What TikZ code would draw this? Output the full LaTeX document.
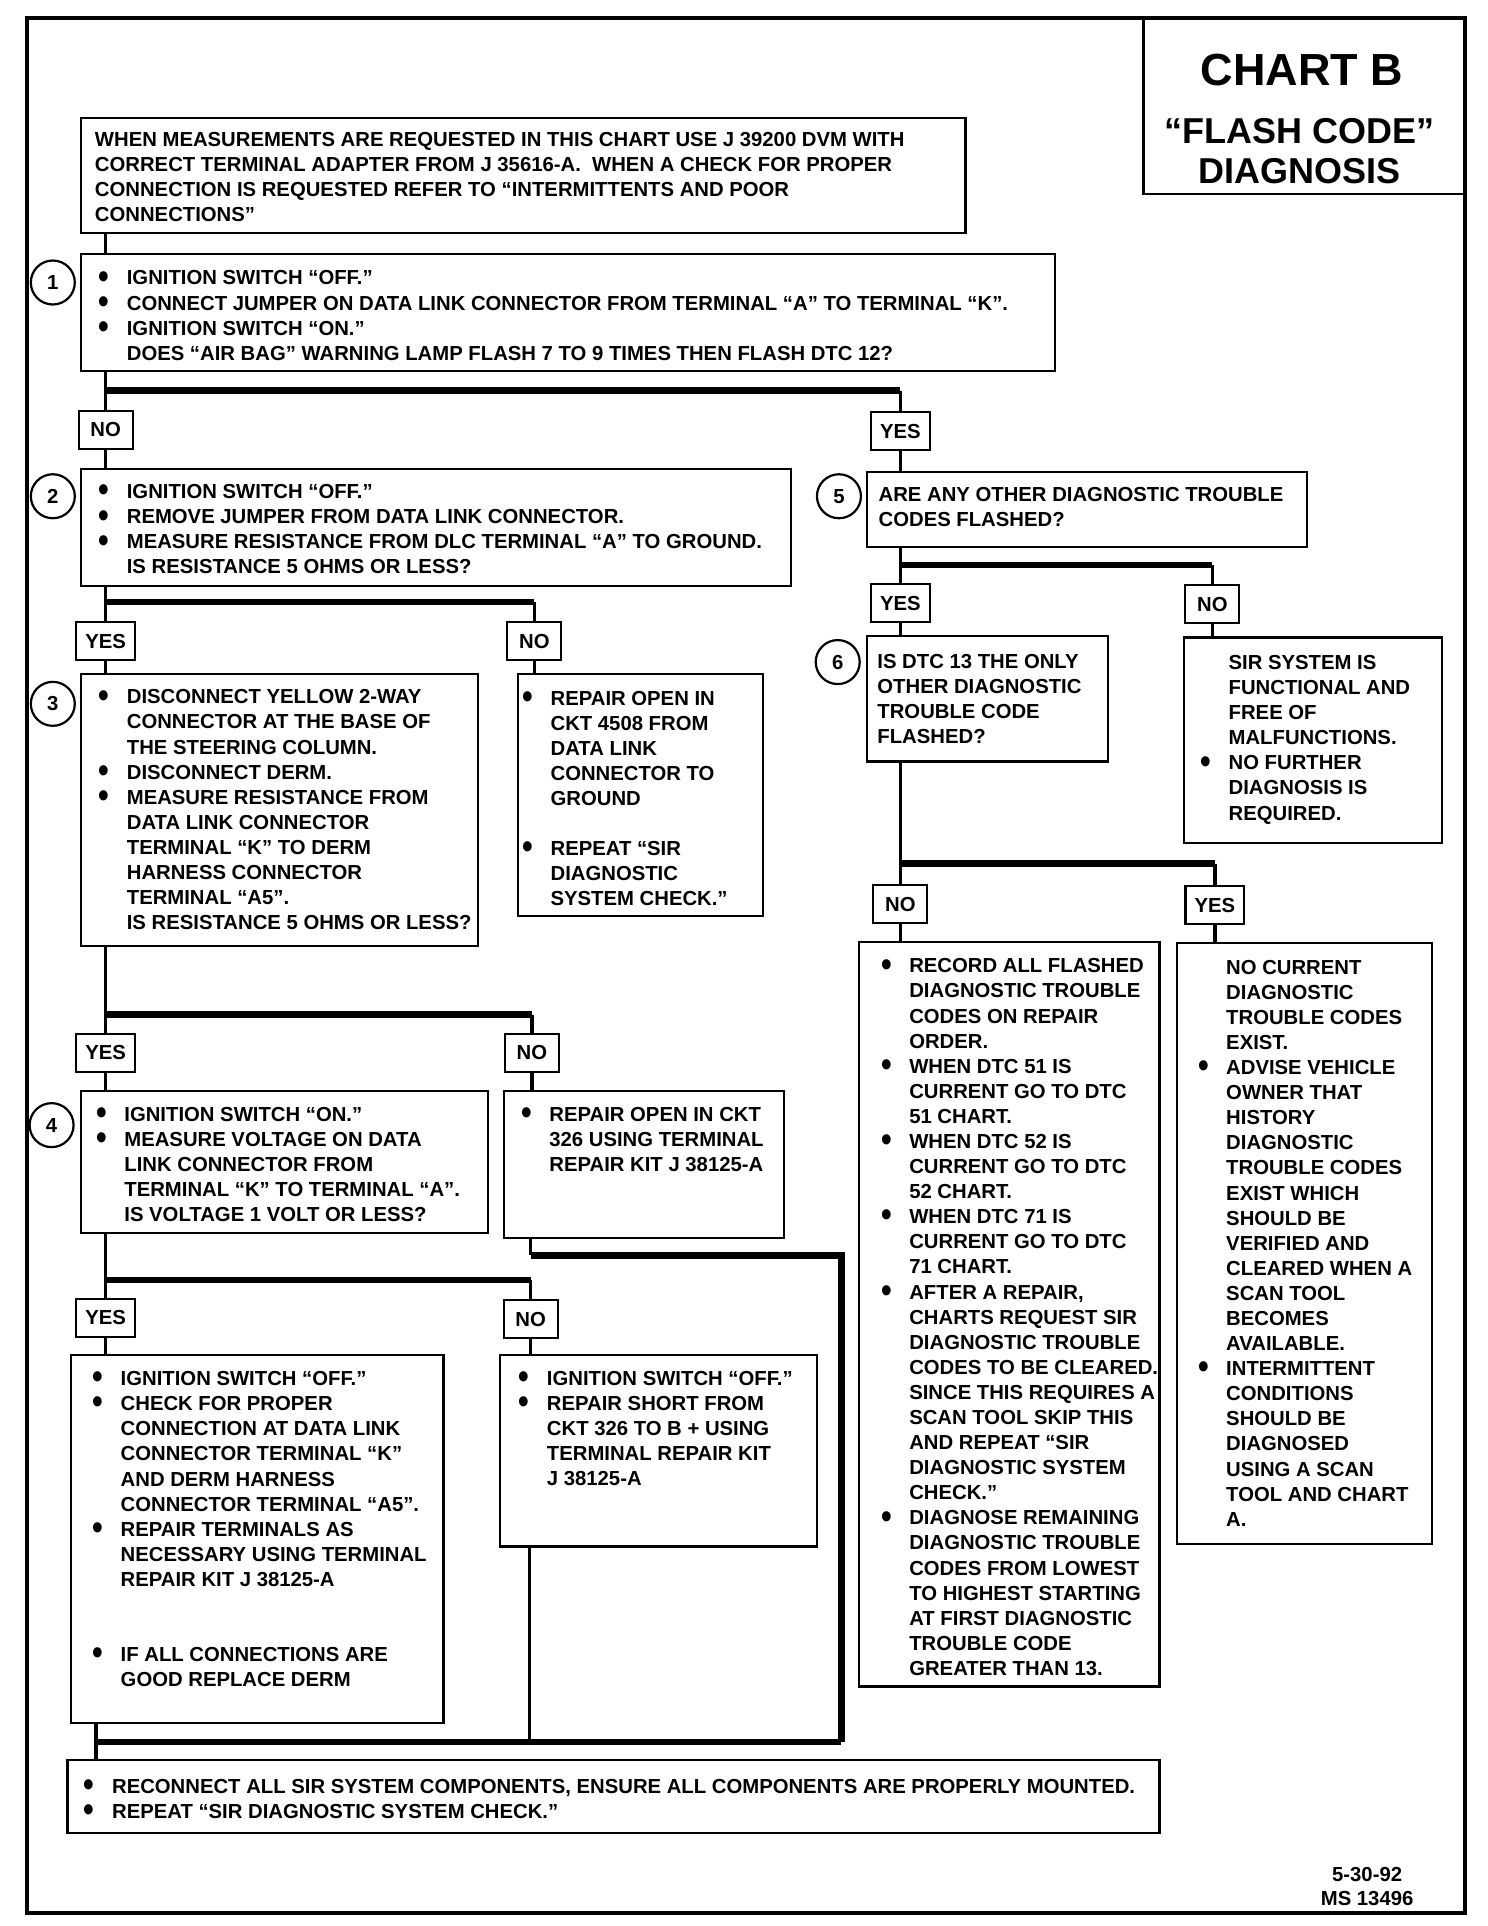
\documentclass[tikz,border=0pt]{standalone}
\usepackage{fontspec}
\usepackage{graphicx}
\setmainfont{Liberation Sans}
\usetikzlibrary{fit}
\newlength\bulw \setlength\bulw{14.1pt}
\newcommand\bult{\makebox[\bulw][l]{\smash{\raisebox{-1.6pt}{\scalebox{1.5}[1.75]{\textbullet}}}}}
\newcommand\indt{\hspace*{\bulw}}
\newcommand\fs{\fontsize{10.15pt}{12.55pt}\selectfont\bfseries}
\tikzset{
  frame/.style={draw, line width=1.1pt, inner sep=0pt},
  txt/.style={anchor=base west, align=left, inner sep=0pt, font=\fs},
  lab/.style={draw, line width=1.1pt, minimum width=27pt, minimum height=19pt, inner xsep=4.5pt, font=\fs, fill=white},
  conn/.style={line width=1.8pt},
  bar/.style={line width=3.2pt},
  num/.style={draw, circle, line width=1.1pt, minimum size=22pt, inner sep=0pt, font=\fs},
}
\begin{document}
\begin{tikzpicture}[x=0.61435pt, y=-0.61435pt]
\useasboundingbox (0,0) rectangle (1211,1568);
% outer frame and title
\node[draw, line width=2pt, inner sep=0pt, fit={(22,15)(1193,1557)}] (outer) {};
\node[frame, fit={(931,15)(1193,158)}] (title) {};
\node[anchor=base, inner sep=0pt, font=\fontsize{22.5pt}{24pt}\selectfont\bfseries] (tA) at (1060,70) {CHART B};
\node[anchor=base, inner sep=0pt, font=\fontsize{18pt}{20pt}\selectfont\bfseries] (tB) at (1058,117) {“FLASH CODE”};
\node[anchor=base, inner sep=0pt, font=\fontsize{18pt}{20pt}\selectfont\bfseries] (tC) at (1058,149) {DIAGNOSIS};

% frames
\node[frame, fit={(66,96)(786,190)}] (b0) {};
\node[frame, fit={(66,207)(859,302)}] (b1) {};
\node[frame, fit={(66,382)(644,477)}] (b2) {};
\node[frame, fit={(66,549)(389,770)}] (b3) {};
\node[frame, fit={(422,549)(621,746)}] (b3n) {};
\node[frame, fit={(66,888)(397,1004)}] (b4) {};
\node[frame, fit={(410,888)(638,1008)}] (b4n) {};
\node[frame, fit={(58,1103)(361,1403)}] (b5y) {};
\node[frame, fit={(407,1103)(665,1259)}] (b5n) {};
\node[frame, fit={(55,1433)(944,1492)}] (bf) {};
\node[frame, fit={(706,384)(1064,445)}] (b5) {};
\node[frame, fit={(706,518)(902,620)}] (b6) {};
\node[frame, fit={(964,519)(1174,686)}] (b6n) {};
\node[frame, fit={(699,767)(944,1373)}] (b7) {};
\node[frame, fit={(958,768)(1166,1257)}] (b7y) {};

% circled numbers
\node[num] (c1) at (43,230) {1};
\node[num] (c2) at (43,404) {2};
\node[num] (c3) at (43,573) {3};
\node[num] (c4) at (42,916) {4};
\node[num] (c5) at (683,404) {5};
\node[num] (c6) at (682,539) {6};

% junction coordinates
\coordinate (j1) at (86,318);  \coordinate (j1r) at (733,318);
\coordinate (j2) at (86,490);  \coordinate (j2r) at (435,490);
\coordinate (j3) at (86,826);  \coordinate (j3r) at (433,826);
\coordinate (j4) at (86,1042); \coordinate (j4r) at (432,1042);
\coordinate (j5) at (733,460); \coordinate (j5r) at (987,460);
\coordinate (j6) at (733,703); \coordinate (j6r) at (989,703);
\coordinate (r1) at (432,1022); \coordinate (r2) at (685,1022);
\coordinate (r3) at (685,1418); \coordinate (r0) at (78,1418);
\coordinate (r4) at (431,1418);

% labels
\node[lab] (l1n) at (86,350) {NO};
\node[lab] (l1y) at (733,351) {YES};
\node[lab] (l2y) at (86,522) {YES};
\node[lab] (l2n) at (435,522) {NO};
\node[lab] (l3y) at (86,857) {YES};
\node[lab] (l3n) at (433,857) {NO};
\node[lab] (l4y) at (86,1073) {YES};
\node[lab] (l4n) at (432,1074) {NO};
\node[lab] (l5y) at (733,491) {YES};
\node[lab] (l5n) at (987,492) {NO};
\node[lab] (l6n) at (733,736) {NO};
\node[lab] (l6y) at (989,737) {YES};

% connectors
\draw[conn] (b0.south -| j1) -- (b1.north -| j1);
\draw[conn] (b1.south -| j1) -- (l1n.north);
\draw[conn] (l1n.south) -- (b2.north -| l1n);
\draw[bar] (j1) -- (j1r);
\draw[conn] (j1r) -- (l1y.north);
\draw[conn] (l1y.south) -- (b5.north -| l1y);

\draw[conn] (b2.south -| j2) -- (l2y.north);
\draw[conn] (l2y.south) -- (b3.north -| l2y);
\draw[bar] (j2) -- (j2r);
\draw[conn] (j2r) -- (l2n.north);
\draw[conn] (l2n.south) -- (b3n.north -| l2n);

\draw[conn] (b3.south -| j3) -- (l3y.north);
\draw[conn] (l3y.south) -- (b4.north -| l3y);
\draw[bar] (j3) -- (j3r);
\draw[conn] (j3r) -- (l3n.north);
\draw[conn] (l3n.south) -- (b4n.north -| l3n);

\draw[conn] (b4.south -| j4) -- (l4y.north);
\draw[conn] (l4y.south) -- (b5y.north -| l4y);
\draw[bar] (j4) -- (j4r);
\draw[conn] (j4r) -- (l4n.north);
\draw[conn] (l4n.south) -- (b5n.north -| l4n);

\draw[conn] (b4n.south -| r1) -- (r1);
\draw[bar] (r1) -- (r2) -- (r3);
\draw[conn] (b5y.south -| r0) -- (r0);
\draw[conn] (b5n.south -| r4) -- (r4);
\draw[bar] (r0) -- (r3);
\draw[conn] (r0) -- (bf.north -| r0);

\draw[conn] (b5.south -| j5) -- (l5y.north);
\draw[conn] (l5y.south) -- (b6.north -| l5y);
\draw[bar] (j5) -- (j5r);
\draw[conn] (j5r) -- (l5n.north);
\draw[conn] (l5n.south) -- (b6n.north -| l5n);

\draw[conn] (b6.south -| j6) -- (l6n.north);
\draw[conn] (l6n.south) -- (b7.north -| l6n);
\draw[bar] (j6) -- (j6r);
\draw[conn] (j6r) -- (l6y.north);
\draw[conn] (l6y.south) -- (b7y.north -| l6y);

% texts (anchor = baseline of the last line)
\node[txt] (t0) at (77,180.3) {WHEN MEASUREMENTS ARE REQUESTED IN THIS CHART USE J 39200 DVM WITH\\
CORRECT TERMINAL ADAPTER FROM J 35616-A.\ \ WHEN A CHECK FOR PROPER\\
CONNECTION IS REQUESTED REFER TO “INTERMITTENTS AND POOR\\
CONNECTIONS”};

\node[txt] (t1) at (80,293.3) {\bult IGNITION SWITCH “OFF.”\\
\bult CONNECT JUMPER ON DATA LINK CONNECTOR FROM TERMINAL “A” TO TERMINAL “K”.\\
\bult IGNITION SWITCH “ON.”\\
\indt DOES “AIR BAG” WARNING LAMP FLASH 7 TO 9 TIMES THEN FLASH DTC 12?};

\node[txt] (t2) at (80,467.3) {\bult IGNITION SWITCH “OFF.”\\
\bult REMOVE JUMPER FROM DATA LINK CONNECTOR.\\
\bult MEASURE RESISTANCE FROM DLC TERMINAL “A” TO GROUND.\\
\indt IS RESISTANCE 5 OHMS OR LESS?};

\node[txt] (t3) at (80,756.9) {\bult DISCONNECT YELLOW 2-WAY\\
\indt CONNECTOR AT THE BASE OF\\
\indt THE STEERING COLUMN.\\
\bult DISCONNECT DERM.\\
\bult MEASURE RESISTANCE FROM\\
\indt DATA LINK CONNECTOR\\
\indt TERMINAL “K” TO DERM\\
\indt HARNESS CONNECTOR\\
\indt TERMINAL “A5”.\\
\indt IS RESISTANCE 5 OHMS OR LESS?};

\node[txt] (t3n) at (425,737.4) {\bult REPAIR OPEN IN\\
\indt CKT 4508 FROM\\
\indt DATA LINK\\
\indt CONNECTOR TO\\
\indt GROUND\\[12.55pt]
\bult REPEAT “SIR\\
\indt DIAGNOSTIC\\
\indt SYSTEM CHECK.”};

\node[txt] (t4) at (78,994.7) {\bult IGNITION SWITCH “ON.”\\
\bult MEASURE VOLTAGE ON DATA\\
\indt LINK CONNECTOR FROM\\
\indt TERMINAL “K” TO TERMINAL “A”.\\
\indt IS VOLTAGE 1 VOLT OR LESS?};

\node[txt] (t4n) at (424,953.9) {\bult REPAIR OPEN IN CKT\\
\indt 326 USING TERMINAL\\
\indt REPAIR KIT J 38125-A};

\node[txt] (t5y) at (75,1373.2) {\bult IGNITION SWITCH “OFF.”\\
\bult CHECK FOR PROPER\\
\indt CONNECTION AT DATA LINK\\
\indt CONNECTOR TERMINAL “K”\\
\indt AND DERM HARNESS\\
\indt CONNECTOR TERMINAL “A5”.\\
\bult REPAIR TERMINALS AS\\
\indt NECESSARY USING TERMINAL\\
\indt REPAIR KIT J 38125-A\\[25.1pt]
\bult IF ALL CONNECTIONS ARE\\
\indt GOOD REPLACE DERM};

\node[txt] (t5n) at (422,1209.7) {\bult IGNITION SWITCH “OFF.”\\
\bult REPAIR SHORT FROM\\
\indt CKT 326 TO B + USING\\
\indt TERMINAL REPAIR KIT\\
\indt J 38125-A};

\node[txt] (tf) at (68,1480.4) {\bult RECONNECT ALL SIR SYSTEM COMPONENTS, ENSURE ALL COMPONENTS ARE PROPERLY MOUNTED.\\
\bult REPEAT “SIR DIAGNOSTIC SYSTEM CHECK.”};

\node[txt] (t5) at (715,428.4) {ARE ANY OTHER DIAGNOSTIC TROUBLE\\
CODES FLASHED?};

\node[txt] (t6) at (714,605.3) {IS DTC 13 THE ONLY\\
OTHER DIAGNOSTIC\\
TROUBLE CODE\\
FLASHED?};

\node[txt] (t6n) at (977,667.6) {\indt SIR SYSTEM IS\\
\indt FUNCTIONAL AND\\
\indt FREE OF\\
\indt MALFUNCTIONS.\\
\bult NO FURTHER\\
\indt DIAGNOSIS IS\\
\indt REQUIRED.};

\node[txt] (t7) at (717,1364.0) {\bult RECORD ALL FLASHED\\
\indt DIAGNOSTIC TROUBLE\\
\indt CODES ON REPAIR\\
\indt ORDER.\\
\bult WHEN DTC 51 IS\\
\indt CURRENT GO TO DTC\\
\indt 51 CHART.\\
\bult WHEN DTC 52 IS\\
\indt CURRENT GO TO DTC\\
\indt 52 CHART.\\
\bult WHEN DTC 71 IS\\
\indt CURRENT GO TO DTC\\
\indt 71 CHART.\\
\bult AFTER A REPAIR,\\
\indt CHARTS REQUEST SIR\\
\indt DIAGNOSTIC TROUBLE\\
\indt CODES TO BE CLEARED.\\
\indt SINCE THIS REQUIRES A\\
\indt SCAN TOOL SKIP THIS\\
\indt AND REPEAT “SIR\\
\indt DIAGNOSTIC SYSTEM\\
\indt CHECK.”\\
\bult DIAGNOSE REMAINING\\
\indt DIAGNOSTIC TROUBLE\\
\indt CODES FROM LOWEST\\
\indt TO HIGHEST STARTING\\
\indt AT FIRST DIAGNOSTIC\\
\indt TROUBLE CODE\\
\indt GREATER THAN 13.};

\node[txt] (t7y) at (975,1242.5) {\indt NO CURRENT\\
\indt DIAGNOSTIC\\
\indt TROUBLE CODES\\
\indt EXIST.\\
\bult ADVISE VEHICLE\\
\indt OWNER THAT\\
\indt HISTORY\\
\indt DIAGNOSTIC\\
\indt TROUBLE CODES\\
\indt EXIST WHICH\\
\indt SHOULD BE\\
\indt VERIFIED AND\\
\indt CLEARED WHEN A\\
\indt SCAN TOOL\\
\indt BECOMES\\
\indt AVAILABLE.\\
\bult INTERMITTENT\\
\indt CONDITIONS\\
\indt SHOULD BE\\
\indt DIAGNOSED\\
\indt USING A SCAN\\
\indt TOOL AND CHART\\
\indt A.};

% footer
\node[anchor=base, inner sep=0pt, font=\fs] (d1) at (1113,1532) {5-30-92};
\node[anchor=base, inner sep=0pt, font=\fs] (d2) at (1113,1551) {MS 13496};
\end{tikzpicture}
\end{document}
